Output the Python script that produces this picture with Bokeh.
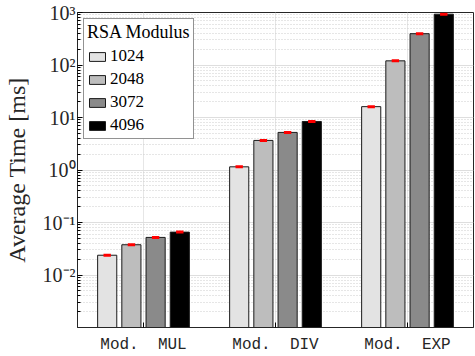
from bokeh.plotting import figure
from bokeh.models import (FixedTicker, CustomJSTickFormatter, Legend, LegendItem,
                          Range1d, ColumnDataSource)
from bokeh.embed import file_html
from bokeh.resources import INLINE

groups = ["Mod.\u00a0\u00a0MUL", "Mod.\u00a0\u00a0DIV", "Mod.\u00a0\u00a0EXP"]
series = ["1024", "2048", "3072", "4096"]
vals_1024 = [0.0238, 1.15, 16.1]
vals_2048 = [0.0377, 3.66, 120.0]
vals_3072 = [0.052, 5.2, 395.0]
vals_4096 = [0.0656, 8.4, 929.0]
colors = ["#e3e3e3", "#bdbdbd", "#8a8a8a", "#000000"]
all_vals = [vals_1024, vals_2048, vals_3072, vals_4096]

serif = "Liberation Serif"
mono = "Liberation Mono"

p = figure(width=475, height=356, y_axis_type="log", output_backend="svg",
           toolbar_location=None, x_range=Range1d(0.5, 3.5), y_range=Range1d(1e-3, 1e3),
           min_border_left=76, min_border_right=2, min_border_top=12, min_border_bottom=26)
p.background_fill_color = "white"
p.border_fill_color = "white"
p.outline_line_color = "#262626"

group_x = [1, 2, 3]
offsets = [-0.275, -0.0917, 0.0917, 0.275]
bw = 0.145
renderers = []
for i, (s, v, c) in enumerate(zip(series, all_vals, colors)):
    xs = [g + offsets[i] for g in group_x]
    src = ColumnDataSource(dict(x=xs, top=v, bottom=[1e-3] * 3))
    r = p.vbar(x="x", top="top", bottom="bottom", width=bw, source=src,
               fill_color=c, line_color="#1a1a1a", line_width=1)
    renderers.append(r)
    p.segment(x0=[x - 0.028 for x in xs], x1=[x + 0.028 for x in xs], y0=v, y1=v,
              line_color="red", line_width=3)

# y axis
yt = [1e-2, 1e-1, 1, 10, 100, 1000]
minor = []
for e in range(-3, 3):
    for m in range(2, 10):
        minor.append(m * 10 ** e)
ticker = FixedTicker(ticks=yt, minor_ticks=minor)
fmt = CustomJSTickFormatter(code="""
const e = Math.round(Math.log10(tick));
const sup = {'-':'\u207b','0':'\u2070','1':'\u00b9','2':'\u00b2','3':'\u00b3','4':'\u2074','5':'\u2075','6':'\u2076','7':'\u2077','8':'\u2078','9':'\u2079'};
return '10' + String(e).split('').map(c => sup[c]).join('');
""")
ya = p.yaxis[0]
ya.ticker = ticker
ya.formatter = fmt
ya.major_label_text_font = serif
ya.major_label_text_font_size = "20px"
ya.major_label_text_color = "#262626"
ya.axis_label = "Average Time [ms]"
ya.axis_label_text_font = serif
ya.axis_label_text_font_size = "24px"
ya.axis_label_text_font_style = "normal"
ya.axis_label_text_color = "#262626"
ya.axis_label_standoff = 10
ya.major_tick_in = 5
ya.major_tick_out = 0
ya.minor_tick_in = 3
ya.minor_tick_out = 0
ya.axis_line_color = "#262626"
ya.major_label_standoff = 2

# x axis
xa = p.xaxis[0]
xa.ticker = FixedTicker(ticks=group_x)
xa.major_label_overrides = {g: lab for g, lab in zip(group_x, groups)}
xa.major_label_text_font = mono
xa.major_label_text_font_size = "16px"
xa.major_label_text_color = "#262626"
xa.major_tick_in = 5
xa.major_tick_out = 0
xa.minor_tick_line_color = None
xa.axis_line_color = "#262626"
xa.major_label_standoff = 8

# grids
p.ygrid.grid_line_color = "#dedede"
p.ygrid.minor_grid_line_color = "#cccccc"
p.ygrid.minor_grid_line_dash = "1 2"
p.ygrid.minor_grid_line_width = 1
p.xgrid.grid_line_color = "#e6e6e6"

legend = Legend(items=[LegendItem(label=s, renderers=[r]) for s, r in zip(series, renderers)],
                location="top_left", title="RSA Modulus")
legend.title_text_font = serif
legend.title_text_font_size = "18px"
legend.title_text_font_style = "normal"
legend.title_text_color = "black"
legend.label_text_font = serif
legend.label_text_font_size = "17px"
legend.label_text_color = "black"
legend.glyph_width = 20
legend.glyph_height = 11
legend.label_height = 12
legend.spacing = 3
legend.padding = 3
legend.margin = 6
legend.label_standoff = 3
legend.border_line_color = "#262626"
legend.border_line_width = 1
legend.background_fill_alpha = 1
legend.title_standoff = 3
p.add_layout(legend)

open("out.html", "w").write(file_html(p, INLINE))
